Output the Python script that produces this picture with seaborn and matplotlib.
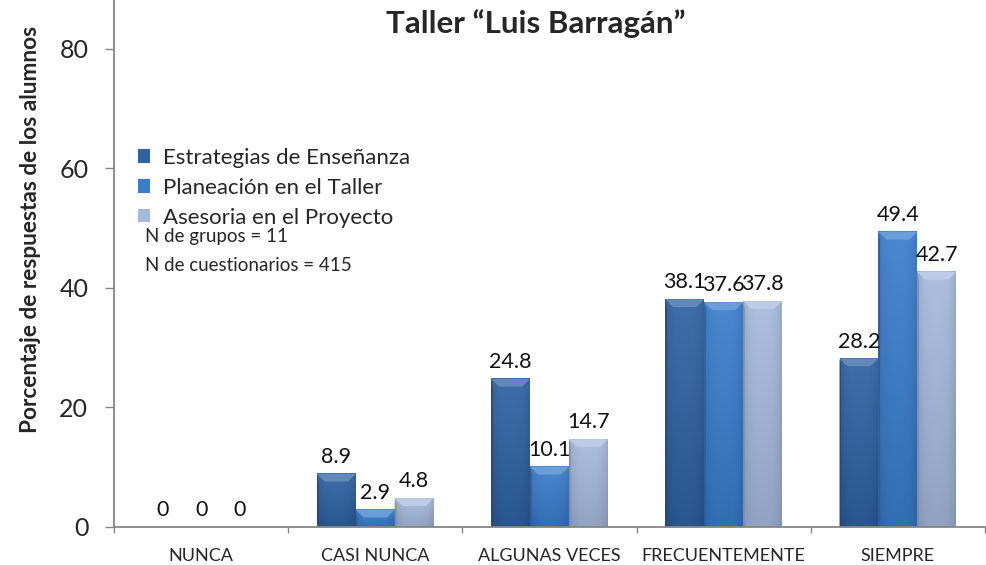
import matplotlib
matplotlib.use("Agg")
import matplotlib.pyplot as plt
import matplotlib.colors as mcolors
from matplotlib.patches import Polygon
import seaborn as sns
import pandas as pd
import numpy as np

categories = ["NUNCA", "CASI NUNCA", "ALGUNAS VECES", "FRECUENTEMENTE", "SIEMPRE"]
series_names = ["Estrategias de Enseñanza", "Planeación en el Taller", "Asesoria en el Proyecto"]
estrategias = [0, 8.9, 24.8, 38.1, 28.2]
planeacion = [0, 2.9, 10.1, 37.6, 49.4]
asesoria = [0, 4.8, 14.7, 37.8, 42.7]
colors = ["#2E62A2", "#3A7DCC", "#A6BADD"]
title = "Taller \u201cLuis Barragán\u201d"
ylabel = "Porcentaje de respuestas de los alumnos"
notes = ["N de grupos = 11", "N de cuestionarios = 415"]

rows = []
for name, vals in zip(series_names, [estrategias, planeacion, asesoria]):
    for c, v in zip(categories, vals):
        rows.append({"cat": c, "serie": name, "val": v})
df = pd.DataFrame(rows)

sns.set_theme(style="white")
plt.rcParams["font.family"] = ["Lato", "DejaVu Sans"]

fig = plt.figure(figsize=(9.87, 5.65), dpi=100)
ax = fig.add_axes([114/987, 38/565, (985-114)/987, 527/565])

sns.barplot(data=df, x="cat", y="val", hue="serie", order=categories,
            hue_order=series_names, palette=colors, width=0.67, ax=ax,
            saturation=1, edgecolor="none", linewidth=0, legend=True)

ax.set_ylim(0, 88.2)
ax.set_xlim(-0.5, 4.5)


def shade(c, f):
    r, g, b = mcolors.to_rgb(c)
    if f >= 0:
        return (r + (1 - r) * f, g + (1 - g) * f, b + (1 - b) * f)
    return (r * (1 + f), g * (1 + f), b * (1 + f))


# pseudo-3D bevel look on each bar drawn by seaborn
for cont in ax.containers:
    for p in cont.patches:
        x, w, h = p.get_x(), p.get_width(), p.get_height()
        if h <= 0:
            continue
        fc = p.get_facecolor()
        top = np.array(shade(fc, 0.08))
        bot = np.array(shade(fc, -0.12))
        n = 64
        t = np.linspace(0, 1, n)[:, None]
        grad = top * (1 - t) + bot * t
        horiz = 1 - 0.10 * np.abs(np.linspace(-1, 1, 32))[None, :] ** 3
        img = grad[:, None, :] * horiz[:, :, None]
        ax.imshow(img, extent=[x, x + w, 0, h], aspect="auto", origin="upper",
                  zorder=p.get_zorder() + 0.1, clip_path=p, clip_on=True,
                  interpolation="bilinear")
        bh = min(1.3, h * 0.5)
        dx = w * 0.2
        ax.add_patch(Polygon([[x, h], [x + w, h], [x + w - dx, h - bh], [x + dx, h - bh]],
                             closed=True, facecolor=shade(fc, 0.25), edgecolor="none",
                             zorder=p.get_zorder() + 0.2))
        ax.add_patch(Polygon([[x, 0], [x, h], [x + w * 0.04, h - bh], [x + w * 0.04, 0]],
                             closed=True, facecolor=shade(fc, -0.25), edgecolor="none",
                             zorder=p.get_zorder() + 0.2))

for cont in ax.containers:
    ax.bar_label(cont, labels=[f"{v:g}" for v in cont.datavalues],
                 padding=5, fontsize=15.5, color="#111111", zorder=5)

ax.set_ylim(0, 88.2)
ax.set_xlim(-0.5, 4.5)
ax.set_yticks([0, 20, 40, 60, 80])
ax.tick_params(axis="y", labelsize=18, length=6.5, width=1, color="#868686",
               direction="out", left=True, pad=12)
ax.set_xticks(np.arange(-0.5, 5, 1))
ax.set_xticklabels([])
ax.set_xticks(np.arange(0, 5), minor=True)
ax.set_xticklabels(categories, minor=True)
ax.tick_params(axis="x", which="major", length=4.5, width=1, color="#868686",
               direction="out", bottom=True)
ax.tick_params(axis="x", which="minor", length=0, labelsize=13, pad=15)
ax.set_xlabel("")
ax.set_ylabel(ylabel, fontsize=16.3, fontweight="bold")
ax.yaxis.set_label_coords(-0.084, 0.564)
for s in ["top", "right"]:
    ax.spines[s].set_visible(False)
for s in ["left", "bottom"]:
    ax.spines[s].set_color("#868686")
    ax.spines[s].set_linewidth(1.3)

ax.text(0.4845, 0.982, title, transform=ax.transAxes, ha="center", va="top",
        fontsize=22.5, fontweight="bold")

leg = ax.legend(loc="upper left", bbox_to_anchor=(0.0172, 0.736), frameon=False,
                fontsize=16, handlelength=0.55, handleheight=0.55,
                handletextpad=0.58, labelspacing=0.44, borderaxespad=0)
ax.text(0.036, 0.551, notes[0], transform=ax.transAxes, ha="left", va="center", fontsize=13.5)
ax.text(0.036, 0.497, notes[1], transform=ax.transAxes, ha="left", va="center", fontsize=13.5)

fig.savefig("out.png", dpi=100)
